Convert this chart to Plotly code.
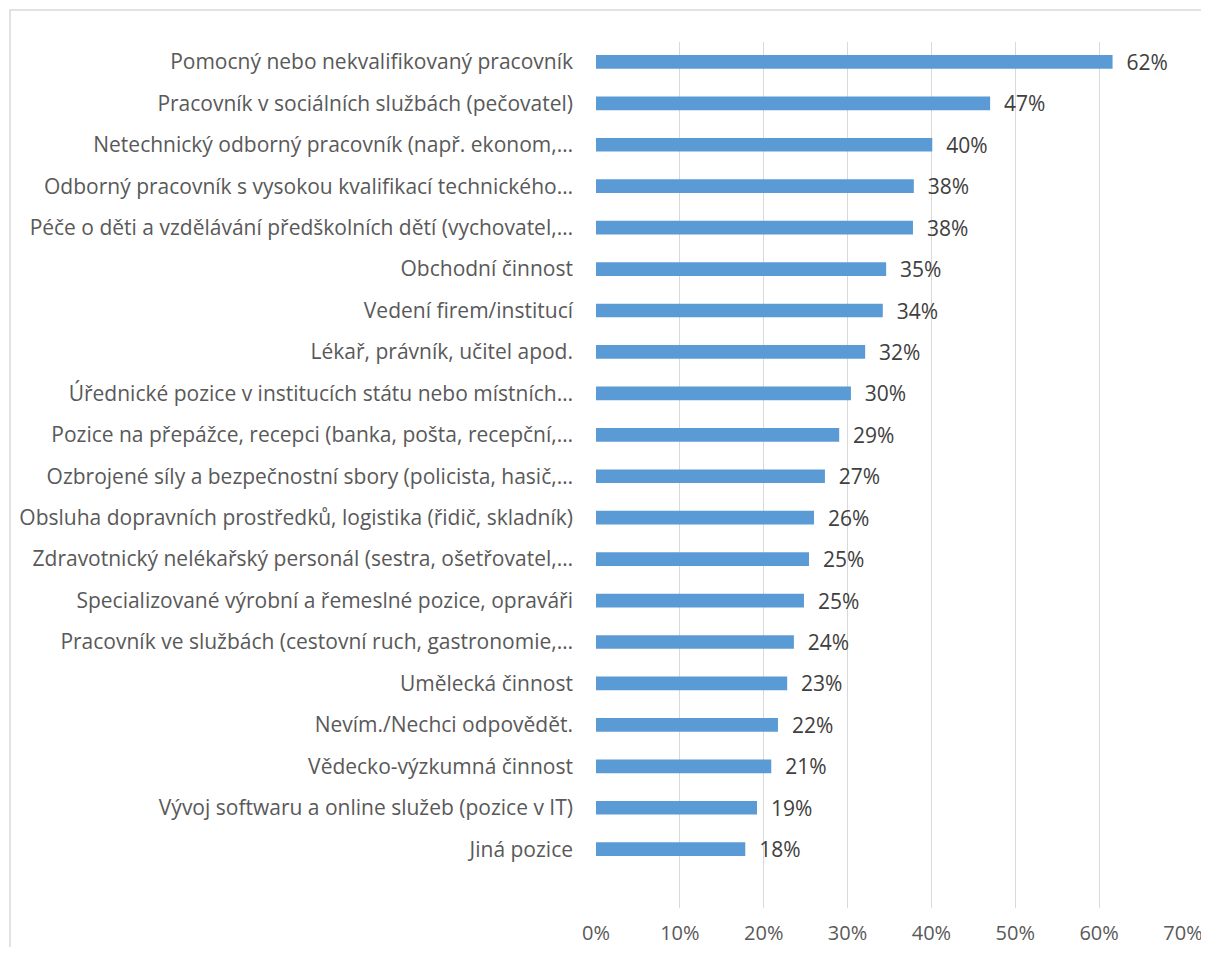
import plotly.graph_objects as go

categories = [
    "Pomocný nebo nekvalifikovaný pracovník",
    "Pracovník v sociálních službách (pečovatel)",
    "Netechnický odborný pracovník (např. ekonom,…",
    "Odborný pracovník s vysokou kvalifikací technického…",
    "Péče o děti a vzdělávání předškolních dětí (vychovatel,…",
    "Obchodní činnost",
    "Vedení firem/institucí",
    "Lékař, právník, učitel apod.",
    "Úřednické pozice v institucích státu nebo místních…",
    "Pozice na přepážce, recepci (banka, pošta, recepční,…",
    "Ozbrojené síly a bezpečnostní sbory (policista, hasič,…",
    "Obsluha dopravních prostředků, logistika (řidič, skladník)",
    "Zdravotnický nelékařský personál (sestra, ošetřovatel,…",
    "Specializované výrobní a řemeslné pozice, opraváři",
    "Pracovník ve službách (cestovní ruch, gastronomie,…",
    "Umělecká činnost",
    "Nevím./Nechci odpovědět.",
    "Vědecko-výzkumná činnost",
    "Vývoj softwaru a online služeb (pozice v IT)",
    "Jiná pozice",
]
values = [0.616, 0.470, 0.401, 0.379, 0.378, 0.346, 0.342, 0.321, 0.304, 0.290,
          0.273, 0.260, 0.254, 0.248, 0.236, 0.228, 0.217, 0.209, 0.192, 0.178]
x_ticks = [0, 0.1, 0.2, 0.3, 0.4, 0.5, 0.6, 0.7]

text_color = "#595959"
grid_color = "#D9D9D9"
font_family = "'Open Sans', 'Noto Sans', sans-serif"

fig = go.Figure()
fig.add_trace(go.Bar(
    x=values,
    y=categories,
    orientation="h",
    marker=dict(color="#5B9BD5", line=dict(width=0)),
    width=0.33,
    text=["\u00a0\u00a0" + f"{v:.0%}" for v in values],
    textposition="outside",
    constraintext="none",
    textfont=dict(color="#404040", size=21, family=font_family),
    cliponaxis=False,
))

# page body adds an 8px margin, so the figure is shifted by 8px and
# kept short enough that no scrollbar appears
fig.update_layout(
    width=1201,
    height=939,
    margin=dict(l=588, r=26, t=34, b=39),
    paper_bgcolor="white",
    plot_bgcolor="white",
    showlegend=False,
    font=dict(family=font_family, color=text_color, size=20),
    xaxis=dict(
        range=[0, 0.7],
        tickvals=x_ticks,
        tickformat=".0%",
        showgrid=True,
        gridcolor=grid_color,
        gridwidth=1,
        zeroline=False,
        showline=False,
        ticks="",
        automargin=False,
        ticklabelstandoff=11,
        tickfont=dict(size=20, color=text_color),
    ),
    yaxis=dict(
        categoryorder="array",
        categoryarray=categories,
        autorange=False,
        range=[20.42, -0.48],
        showgrid=False,
        zeroline=False,
        showline=False,
        ticks="",
        automargin=False,
        ticklabelstandoff=22,
        tickfont=dict(size=21, color=text_color),
    ),
)

# outer chart border (left and top visible, rest runs off the picture)
fig.add_shape(
    type="rect",
    xref="paper", yref="paper",
    x0=-586 / 587, x1=1.2,
    y0=-0.2, y1=1 + 32 / 866,
    line=dict(color=grid_color, width=1.5),
    layer="below",
)

fig.write_html("out.html")
